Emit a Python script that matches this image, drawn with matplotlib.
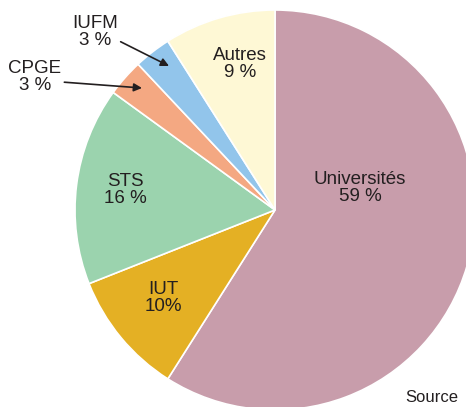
import matplotlib.pyplot as plt

# parts of the pie, clockwise from the top
labels = ['Universités', 'IUT', 'STS', 'CPGE', 'IUFM', 'Autres']
shares = [59, 10, 16, 3, 3, 9]
pct_text = ['59 %', '10%', '16 %', '3 %', '3 %', '9 %']
colors = ['#C89DAB', '#E4B024', '#9BD3AE', '#F4A882', '#92C5EB', '#FEF8D5']

plt.rcParams['font.family'] = ['Liberation Sans', 'DejaVu Sans']

fig = plt.figure(figsize=(4.66, 4.07), dpi=100)
ax = fig.add_axes([0, 0, 1, 1])
ax.pie(shares, colors=colors, startangle=90, counterclock=False, radius=1,
       wedgeprops=dict(edgecolor='white', linewidth=1.2))
ax.set_aspect('auto')
ax.set_xlim(-1.375, 0.955)
ax.set_ylim(-0.985, 1.05)
ax.axis('off')

# labels inside the slices
inside = {'Universités': (0.425, 0.11), 'IUT': (-0.56, -0.44),
          'STS': (-0.75, 0.1), 'Autres': (-0.175, 0.73)}
for name, txt in zip(labels, pct_text):
    if name in inside:
        x, y = inside[name]
        ax.text(x, y, name + '\n' + txt, ha='center', va='center',
                fontsize=13.5, color='#231F20', linespacing=0.95)

# small slices: label outside with an arrow
ax.annotate('IUFM\n3 %', xy=(-0.53, 0.72), xytext=(-0.9, 0.89),
            ha='center', va='center', fontsize=13.5, color='#231F20', linespacing=0.95,
            arrowprops=dict(arrowstyle='-|>', color='#231F20', lw=1.2,
                            shrinkA=0, shrinkB=0, mutation_scale=12,
                            relpos=(1.0, 0.25)))
ax.annotate('CPGE\n3 %', xy=(-0.665, 0.61), xytext=(-1.2, 0.665),
            ha='center', va='center', fontsize=13.5, color='#231F20', linespacing=0.95,
            arrowprops=dict(arrowstyle='-|>', color='#231F20', lw=1.2,
                            shrinkA=0, shrinkB=0, mutation_scale=12,
                            relpos=(1.0, 0.35)))

ax.text(0.65, -0.975, 'Source', ha='left', va='bottom', fontsize=12,
        color='#231F20', clip_on=False)

fig.savefig('out.png', dpi=100)
